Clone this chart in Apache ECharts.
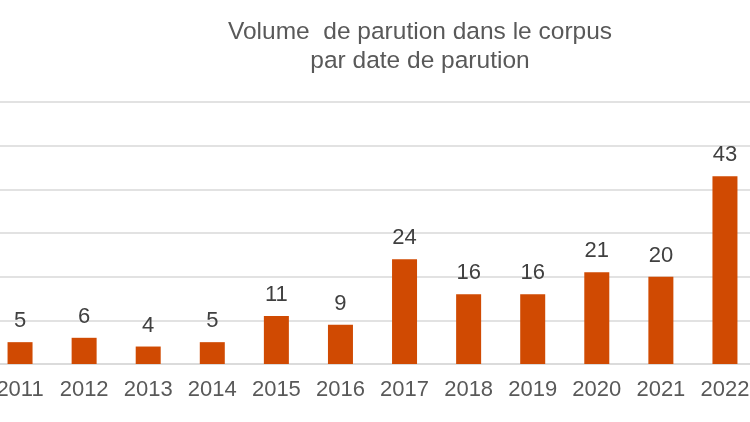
<!DOCTYPE html>
<html>
<head>
<meta charset="utf-8">
<script src="https://cdn.jsdelivr.net/npm/echarts@6/dist/echarts.min.js"></script>
<style>html,body{margin:0;padding:0;background:#fff;overflow:hidden;width:750px;height:422px}#c{width:769px;height:422px;margin-left:-12px}</style>
</head>
<body>
<div id="c"></div>
<script>
var categories = ['2011','2012','2013','2014','2015','2016','2017','2018','2019','2020','2021','2022'];
var values = [5, 6, 4, 5, 11, 9, 24, 16, 16, 21, 20, 43];
var yMin = 0, yMax = 60, yStep = 10;
var titleLines = ['Volume  de parution dans le corpus', 'par date de parution'];

var chart = echarts.init(document.getElementById('c'));
chart.setOption({
  animation: false,
  backgroundColor: '#ffffff',
  textStyle: { fontFamily: 'Liberation Sans, Arial, sans-serif' },
  title: {
    text: titleLines.join('\n'),
    left: 427,
    top: 13,
    textAlign: 'center',
    textStyle: { fontSize: 24.5, fontWeight: 'normal', color: '#595959', lineHeight: 29, fontFamily: 'Liberation Sans, Arial, sans-serif' }
  },
  grid: { left: 0, right: 0, top: 102, bottom: 58, containLabel: false },
  xAxis: {
    type: 'category',
    data: categories,
    axisLine: { lineStyle: { color: '#d9d9d9', width: 1.5 } },
    axisTick: { show: false },
    axisLabel: { fontSize: 22, color: '#595959', margin: 15, interval: 0 }
  },
  yAxis: {
    type: 'value',
    min: yMin, max: yMax, interval: yStep,
    axisLabel: { show: false },
    axisLine: { show: false },
    axisTick: { show: false },
    splitLine: { lineStyle: { color: '#d9d9d9', width: 1.5 } }
  },
  series: [{
    type: 'bar',
    data: values,
    barWidth: 25,
    itemStyle: { color: '#d04a02' },
    label: { show: true, position: 'top', distance: 10, fontSize: 22, color: '#404040' }
  }]
});
</script>
</body>
</html>
